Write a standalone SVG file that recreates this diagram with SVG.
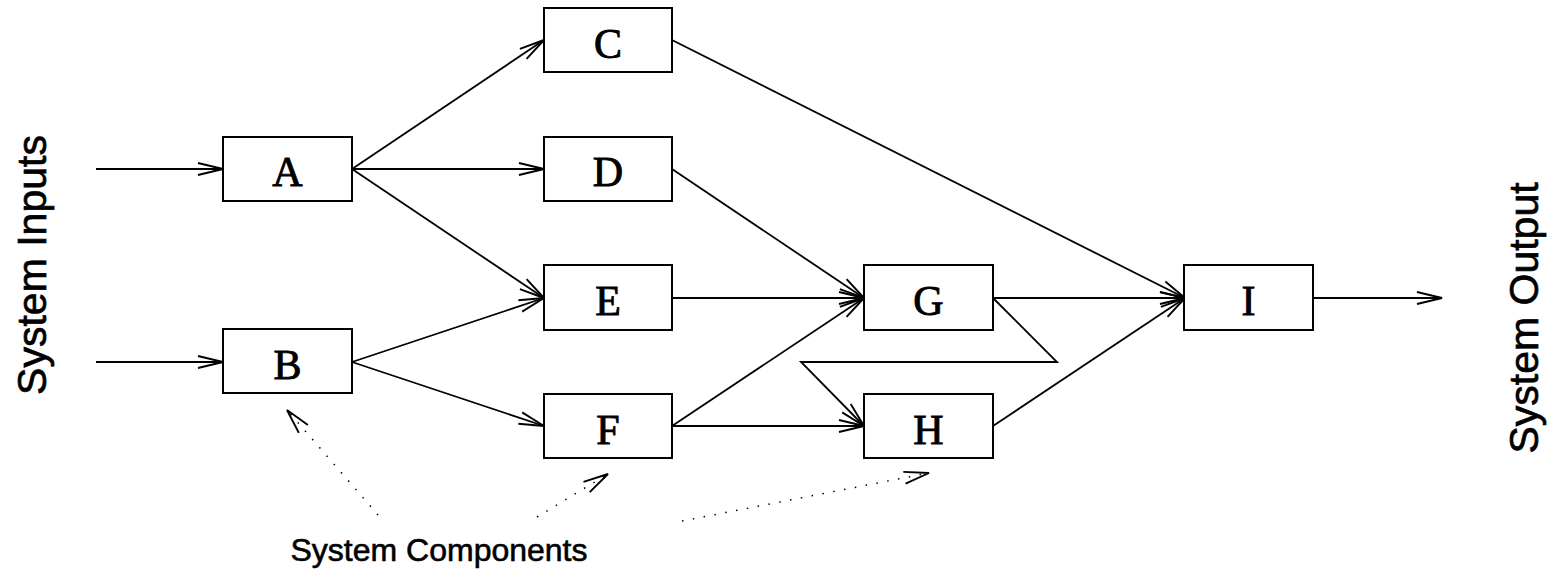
<svg xmlns="http://www.w3.org/2000/svg" width="1553" height="578" viewBox="0 0 1553 578">
<style>
.box{fill:#fff;stroke:#000;stroke-width:2}
.lbl{font-family:"Liberation Serif","Times New Roman",serif;font-size:42px;text-anchor:middle;fill:#000;stroke:#000;stroke-width:0.9}
.side{font-family:"Liberation Sans",Arial,sans-serif;font-size:41px;text-anchor:middle;fill:#000;stroke:#000;stroke-width:0.7}
.con{fill:none;stroke:#000;stroke-width:1.8;marker-end:url(#arr)}
.dot{fill:none;stroke:#000;stroke-width:1.5;stroke-dasharray:1.5 9.5;marker-end:url(#arr)}
</style>
<defs>
<marker id="arr" markerUnits="userSpaceOnUse" orient="auto" viewBox="-28 -9 30 18" refX="0" refY="0" markerWidth="30" markerHeight="18">
<path d="M-25,-6 L0,0 L-25,6" fill="none" stroke="#000" stroke-width="1.9"/>
</marker>
</defs>
<rect width="1553" height="578" fill="#fff"/>
<g id="connectors">
<path class="con" d="M96,169 L223,169"/>
<path class="con" d="M96,362 L223,362"/>
<path class="con" d="M352,169 L544,40"/>
<path class="con" d="M352,169 L544,169"/>
<path class="con" d="M352,169 L544,298"/>
<path class="con" d="M352,362 L544,298"/>
<path class="con" d="M352,362 L544,426"/>
<path class="con" d="M672,40 L1185,298"/>
<path class="con" d="M672,169 L864,298"/>
<path class="con" d="M672,298 L864,298"/>
<path class="con" d="M672,426 L864,298"/>
<path class="con" d="M672,426 L864,426"/>
<path class="con" d="M993,298 L1185,298"/>
<path class="con" d="M993,298 L1057,362 L801,362 L864,426"/>
<path class="con" d="M993,426 L1185,298"/>
<path class="con" d="M1313,298 L1442,298"/>
<path class="dot" d="M378,515 L287,410"/>
<path class="dot" d="M537,517 L608,474"/>
<path class="dot" d="M682,521 L929,473"/>
</g>
<g id="nodeA"><rect class="box" x="223" y="137" width="129" height="64"/><text class="lbl" x="287.5" y="186">A</text></g>
<g id="nodeB"><rect class="box" x="223" y="329" width="129" height="64"/><text class="lbl" x="287.5" y="379">B</text></g>
<g id="nodeC"><rect class="box" x="544" y="8" width="128" height="64"/><text class="lbl" x="608" y="58">C</text></g>
<g id="nodeD"><rect class="box" x="544" y="137" width="128" height="64"/><text class="lbl" x="608" y="186">D</text></g>
<g id="nodeE"><rect class="box" x="544" y="265" width="128" height="65"/><text class="lbl" x="608" y="315">E</text></g>
<g id="nodeF"><rect class="box" x="544" y="394" width="128" height="64"/><text class="lbl" x="608" y="444">F</text></g>
<g id="nodeG"><rect class="box" x="864" y="265" width="129" height="65"/><text class="lbl" x="928.5" y="315">G</text></g>
<g id="nodeH"><rect class="box" x="864" y="394" width="129" height="64"/><text class="lbl" x="928.5" y="444">H</text></g>
<g id="nodeI"><rect class="box" x="1184" y="265" width="129" height="65"/><text class="lbl" x="1248.5" y="315">I</text></g>
<g id="labels">
<text class="side" transform="translate(46,265) rotate(-90)" x="0" y="0">System Inputs</text>
<text class="side" transform="translate(1538,318) rotate(-90)" x="0" y="0">System Output</text>
<text class="side" style="font-size:32px;stroke-width:0.6" x="439" y="561">System Components</text>
</g>
</svg>
